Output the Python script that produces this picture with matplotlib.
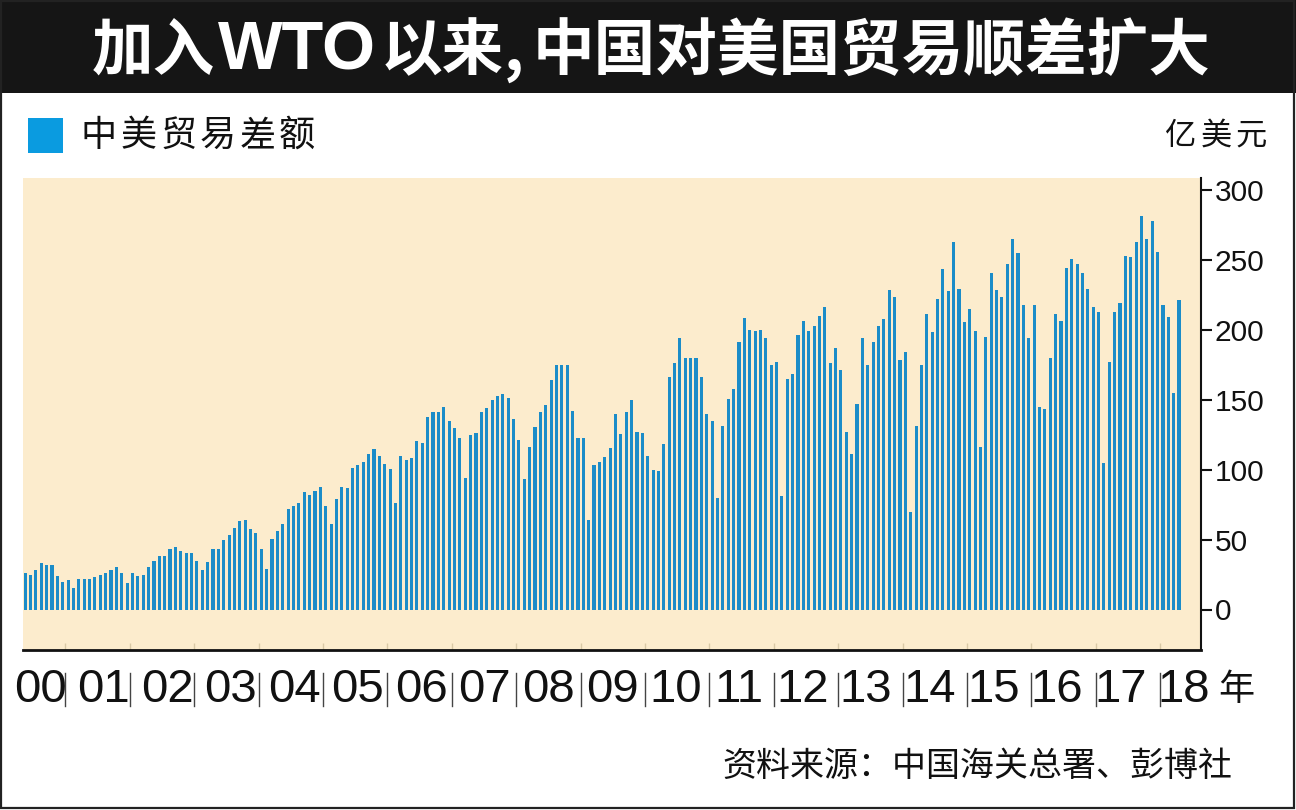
import matplotlib
matplotlib.use("Agg")
import matplotlib.pyplot as plt
import matplotlib.transforms as mtransforms
from matplotlib.patches import Rectangle

# ---------------- data (亿美元, monthly, May 2000 - Apr 2018) ----------------
y2000 = [26, 25, 28, 33, 32, 32, 24, 20]                      # May-Dec
y2001 = [21, 15.5, 22, 22, 22, 23, 25, 26, 28.5, 30.5, 26, 19]
y2002 = [26, 24, 24.5, 30.5, 35, 38, 38, 43, 44.5, 41.5, 40.5, 40.5]
y2003 = [34.5, 28, 34, 43.5, 43.5, 50, 53, 58, 63, 64, 57.5, 55]
y2004 = [43.5, 29, 50.5, 56, 61.5, 72, 74, 76, 84, 82, 85, 87.5]
y2005 = [74, 61.5, 79, 87.5, 87, 101, 103, 105.5, 111.5, 115, 109.5, 104]
y2006 = [100.5, 76, 109.5, 107, 108.5, 120.5, 119, 138, 141, 141, 145, 135]
y2007 = [130, 122.5, 94, 125, 126, 141, 144, 149.5, 152.5, 154, 151, 136.5]
y2008 = [121, 93.5, 116.5, 130.5, 141.5, 146.5, 164, 175, 175, 175, 142, 123]
y2009 = [123, 64, 103, 105.5, 109, 115.5, 139.5, 125.5, 141.5, 150, 127, 126.5]
y2010 = [109.5, 99.5, 99, 118.5, 166.5, 176.5, 194, 180, 179.5, 179.5, 166.5, 139.5]
y2011 = [135, 80, 131, 150.5, 158, 191, 208.5, 200, 199.5, 200, 194, 174.5]
y2012 = [177, 81.5, 165, 168.5, 196.5, 206, 199.5, 203, 210, 216, 176.5, 187]
y2013 = [171.5, 127, 111, 147, 194, 174.5, 191, 202.5, 207.5, 228.5, 223.5, 178.5]
y2014 = [184, 69.5, 131, 175, 211, 198.5, 222, 243.5, 228, 262.5, 229, 205.5]
y2015 = [215, 199.5, 116, 195, 241, 228.5, 223.5, 247, 265, 255, 217.5, 194.5]
y2016 = [217.5, 145, 143.5, 179.5, 211, 206.5, 244.5, 251, 247, 241, 229.5, 216.5]
y2017 = [213, 104.5, 177, 212.5, 219, 253, 252, 262.5, 281.5, 265, 278, 255.5]
y2018 = [218, 209.5, 154.5, 221.5]                            # Jan-Apr

year_labels = ["00", "01", "02", "03", "04", "05", "06", "07", "08", "09",
               "10", "11", "12", "13", "14", "15", "16", "17", "18"]
y_ticks = [0, 50, 100, 150, 200, 250, 300]

# title: 加入WTO以来,中国对美国贸易顺差扩大 (drawn in pieces to match spacing)
title_a = "加入"
title_b = "WTO"
title_c = "以来"
title_comma = ","
title_d = "中国对美国贸易顺差扩大"
legend_label = "中美贸易差额"
unit_label = "亿美元"
year_suffix = "年"
source = "资料来源：中国海关总署、彭博社"

values = (y2000 + y2001 + y2002 + y2003 + y2004 + y2005 + y2006 + y2007 + y2008
          + y2009 + y2010 + y2011 + y2012 + y2013 + y2014 + y2015 + y2016
          + y2017 + y2018)
x = list(range(len(values)))

# ---------------- styling ----------------
CJK = ["Noto Sans CJK SC", "DejaVu Sans"]
NUM = ["Liberation Sans", "DejaVu Sans"]
NARROW = ["Liberation Sans Narrow", "Liberation Sans", "DejaVu Sans"]
plt.rcParams["font.family"] = CJK

W, H = 1296, 810
fig = plt.figure(figsize=(W / 100, H / 100), dpi=100)
fig.patch.set_facecolor("white")


def fx(px):
    return px / W


def fy(py):
    return 1 - py / H


# title band + outer frame
fig.add_artist(Rectangle((0, fy(93)), 1, 1 - fy(93), transform=fig.transFigure,
                         facecolor="#151515", edgecolor="none", zorder=0))
fig.add_artist(Rectangle((fx(1), fy(808)), fx(1294) - fx(1), fy(1) - fy(808),
                         transform=fig.transFigure, facecolor="none",
                         edgecolor="#222222", linewidth=1.6, zorder=5))

BASE = fy(70)
TFS = 44
t_d = fig.text(fx(1210), BASE, title_d, color="white", fontsize=TFS,
               fontweight="bold", ha="right", va="baseline", family=CJK)
t_a = fig.text(fx(92), BASE, title_a, color="white", fontsize=TFS,
               fontweight="bold", ha="left", va="baseline", family=CJK)
t_b = fig.text(fx(297), BASE, title_b, color="white", fontsize=48,
               fontweight="bold", ha="center", va="baseline", family=NUM)
t_c = fig.text(fx(504), BASE, title_c, color="white", fontsize=TFS,
               fontweight="bold", ha="right", va="baseline", family=CJK)
t_comma = fig.text(fx(514), BASE, title_comma, color="white", fontsize=TFS,
                   fontweight="bold", ha="center", va="baseline", family=CJK)

# legend
fig.add_artist(Rectangle((fx(28), fy(153)), 35 / W, 35 / H, transform=fig.transFigure,
                         facecolor="#0A9BE0", edgecolor="none"))
for i, ch in enumerate(legend_label):
    fig.text(fx(99 + i * 39.6), fy(136), ch, fontsize=26, ha="center", va="center",
             color="#111111", family=CJK)
for i, ch in enumerate(unit_label):
    fig.text(fx(1181 + i * 35), fy(136), ch, fontsize=22.5, ha="center", va="center",
             color="#111111", family=CJK)

# axes
PITCH = 5.367
ax_left, ax_right, ax_top, ax_bottom = 23, 1201, 178, 650
ax = fig.add_axes([fx(ax_left), fy(ax_bottom), fx(ax_right) - fx(ax_left),
                   fy(ax_top) - fy(ax_bottom)])
ax.set_facecolor("#FCECCD")
ax.bar(x, values, width=0.58, color="#1B8CC8", zorder=2, linewidth=0)

x0 = -0.4
ax.set_xlim(x0, x0 + (ax_right - ax_left) / PITCH)
y0px, y300px = 609.5, 190
scale = (y0px - y300px) / 300
ax.set_ylim(-(ax_bottom - y0px) / scale, (y0px - ax_top) / scale)

for s in ["left", "top"]:
    ax.spines[s].set_visible(False)
ax.spines["bottom"].set_linewidth(2)
ax.spines["bottom"].set_color("#111111")
ax.spines["right"].set_linewidth(1.5)
ax.spines["right"].set_color("#111111")

ax.yaxis.tick_right()
ax.set_yticks(y_ticks)
ax.set_yticklabels([str(v) for v in y_ticks], family=NUM)
ax.tick_params(axis="y", direction="out", length=8, width=1.5, pad=2,
               labelsize=21.5, colors="#111111")

boundaries = [7.5 + 12 * k for k in range(18)]
ax.set_xticks(boundaries)
ax.tick_params(axis="x", direction="in", length=5, width=1, color="#d9c9a6",
               labelbottom=False)

trans = mtransforms.blended_transform_factory(ax.transData, fig.transFigure)
for b in boundaries:
    ax.plot([b, b], [fy(673), fy(706)], transform=trans, color="#444444",
            linewidth=1.0, clip_on=False)

for k, lab in enumerate(year_labels):
    lx = (40 + 63.55 * k - ax_left) / PITCH + x0
    ax.text(lx, fy(690), lab, transform=trans, ha="center", va="center",
            fontsize=34, family=NARROW, color="#111111")

fig.text(fx(1236), fy(690), year_suffix, fontsize=26, ha="center", va="center",
         family=CJK, color="#111111")

t_src = fig.text(fx(977), fy(766), source, fontsize=23, ha="center", va="center",
                 family=CJK, color="#111111")

# fit texts to the reference widths
fig.canvas.draw()
r = fig.canvas.get_renderer()
w = t_d.get_window_extent(renderer=r).width
fs = t_d.get_fontsize() * 678 / w
for t in (t_d, t_a, t_c, t_comma):
    t.set_fontsize(fs)
w = t_b.get_window_extent(renderer=r).width
t_b.set_fontsize(t_b.get_fontsize() * 158 / w)
w = t_src.get_window_extent(renderer=r).width
t_src.set_fontsize(t_src.get_fontsize() * 510 / w)

fig.savefig("out.png", dpi=100, facecolor="white")
